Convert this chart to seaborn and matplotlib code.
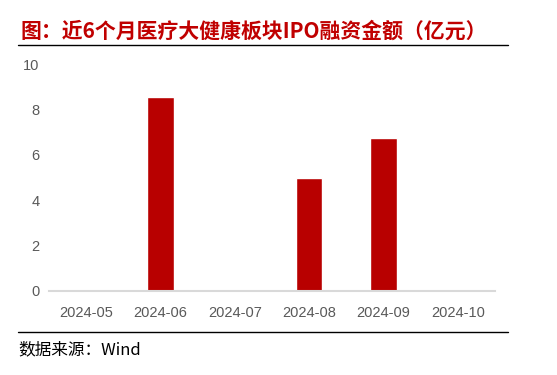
import matplotlib
matplotlib.use('Agg')
import matplotlib.pyplot as plt
import seaborn as sns
import pandas as pd
from matplotlib.lines import Line2D

# 数据
months = ['2024-05', '2024-06', '2024-07', '2024-08', '2024-09', '2024-10']
amounts = [0, 8.56, 0, 5.0, 6.74, 0]
title = '图：近6个月医疗大健康板块IPO融资金额（亿元）'
source = '数据来源：Wind'

sns.set_style('white')
plt.rcParams['font.family'] = ['Liberation Sans', 'Noto Sans CJK SC', 'DejaVu Sans']

df = pd.DataFrame({'month': months, 'amount': amounts})

W, H = 557, 375
fig = plt.figure(figsize=(W / 100, H / 100), dpi=100)
ax = fig.add_axes([49 / W, 1 - 291 / H, (495 - 49) / W, (291 - 64) / H])

sns.barplot(data=df, x='month', y='amount', color='#B80000', width=0.35,
            saturation=1, ax=ax)

ax.set_xlim(-0.5, len(months) - 0.5)
ax.set_ylim(0, 10)
ax.set_yticks(range(0, 11, 2))
ax.set_xlabel('')
ax.set_ylabel('')

for s in ['left', 'right', 'top']:
    ax.spines[s].set_visible(False)
ax.spines['bottom'].set_color('#D9D9D9')
ax.spines['bottom'].set_linewidth(1.5)

ax.tick_params(axis='x', which='major', length=0, pad=11, labelsize=10.5, labelcolor='#595959')
ax.tick_params(axis='y', length=0, pad=7, labelsize=10.5, labelcolor='#595959')
ax.set_xticks([i - 0.5 for i in range(len(months) + 1)], minor=True)
ax.tick_params(axis='x', which='minor', length=5, width=1.2, color='#D9D9D9', direction='out')

# 标题和来源
fig.text(20 / W, 1 - 31 / H, title, color='#C00000', fontsize=15, fontweight='bold',
         family=['Noto Sans CJK SC', 'DejaVu Sans'], va='center', ha='left')
fig.add_artist(Line2D([18 / W, 508 / W], [1 - 45 / H, 1 - 45 / H], color='black', lw=1,
                      transform=fig.transFigure))
fig.add_artist(Line2D([18 / W, 508 / W], [1 - 332 / H, 1 - 332 / H], color='black', lw=1,
                      transform=fig.transFigure))
fig.text(18 / W, 1 - 350 / H, source, color='black', fontsize=12,
         family=['Noto Sans CJK SC', 'DejaVu Sans'], va='center', ha='left')

fig.savefig('out.png', dpi=100)
